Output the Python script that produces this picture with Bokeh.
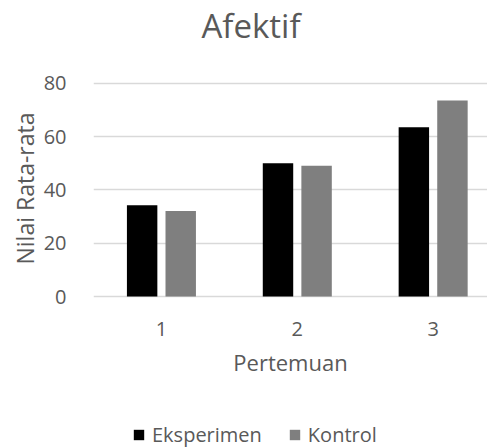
from bokeh.plotting import figure
from bokeh.models import Range1d, Legend, LegendItem, FixedTicker, Title
from bokeh.embed import file_html
from bokeh.resources import INLINE

# Mean scores per meeting
pertemuan = [1, 2, 3]
eksperimen = [34.2, 50.0, 63.5]
kontrol = [32.1, 49.1, 73.5]
y_ticks = [0, 20, 40, 60, 80]

FONT = "Open Sans"
TEXT = "#595959"
GRID = "#d9d9d9"
BAR_W = 0.224
OFFSET = 0.142

# the plot area runs to the bottom edge so the legend can sit inside it;
# the category axis is pinned at y = 0
p = figure(width=487, height=447, frame_width=394, frame_height=400,
           output_backend="svg", toolbar_location=None,
           x_range=Range1d(0.5, 3.4), y_range=Range1d(-56.6, 93.4),
           min_border_left=93, min_border_right=0, min_border_top=47,
           min_border_bottom=0, title=None)
p.outline_line_color = None
p.background_fill_color = "white"
p.border_fill_color = "white"

x_e = [c - OFFSET for c in pertemuan]
x_k = [c + OFFSET for c in pertemuan]
r_e = p.vbar(x=x_e, top=eksperimen, width=BAR_W, fill_color="#000000", line_color=None)
r_k = p.vbar(x=x_k, top=kontrol, width=BAR_W, fill_color="#7f7f7f", line_color=None)

# axes
p.xaxis.ticker = FixedTicker(ticks=pertemuan)
p.yaxis.ticker = FixedTicker(ticks=y_ticks)
for ax in (p.xaxis[0], p.yaxis[0]):
    ax.axis_line_color = None
    ax.major_tick_line_color = None
    ax.minor_tick_line_color = None
    ax.major_label_text_font = FONT
    ax.major_label_text_font_size = "20px"
    ax.major_label_text_color = TEXT
    ax.axis_label_text_font = FONT
    ax.axis_label_text_font_size = "22px"
    ax.axis_label_text_color = TEXT
    ax.axis_label_text_font_style = "normal"
p.xaxis.fixed_location = 0
p.xaxis.major_label_standoff = 19
p.xaxis.axis_label = "Pertemuan"
p.xaxis.axis_label_standoff = 8
p.yaxis.major_label_standoff = 21

p.xgrid.grid_line_color = None
p.ygrid.grid_line_color = GRID
p.ygrid.grid_line_width = 1.3

# chart title
p.add_layout(Title(text="Afektif", align="left", offset=108, standoff=0,
                   vertical_align="bottom",
                   text_font=FONT, text_font_size="33px", text_color=TEXT,
                   text_font_style="normal"), "above")

# y-axis caption, centred on the 0-80 value band
p.add_layout(Title(text="Nilai Rata-rata", align="left", offset=183, standoff=0,
                   vertical_align="bottom",
                   text_font=FONT, text_font_size="23px", text_color=TEXT,
                   text_font_style="normal"), "left")

legend = Legend(items=[LegendItem(label="Eksperimen", renderers=[r_e]),
                       LegendItem(label="Kontrol", renderers=[r_k])],
                orientation="horizontal", location=(39, -1),
                glyph_width=13, glyph_height=13, label_standoff=7, spacing=26,
                padding=0, margin=0, border_line_color=None,
                background_fill_alpha=0,
                label_text_font=FONT, label_text_font_size="20px",
                label_text_color=TEXT)
p.add_layout(legend, "center")

open("out.html", "w").write(file_html(p, INLINE))
